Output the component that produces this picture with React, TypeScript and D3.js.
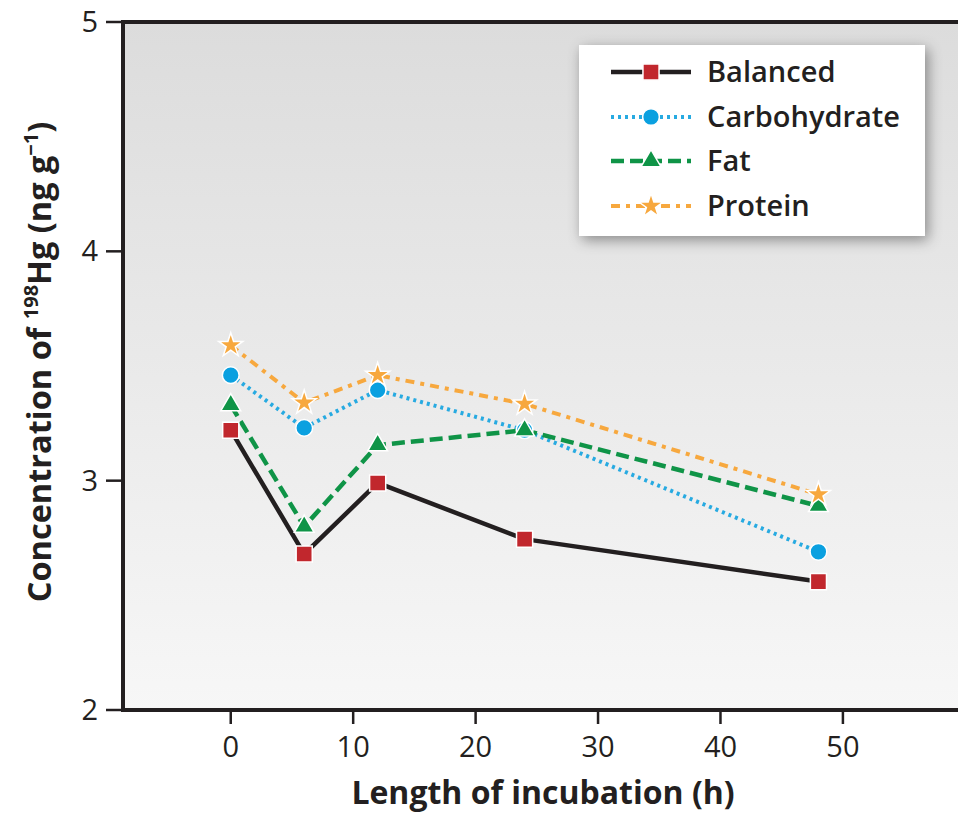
import React, { useRef, useEffect } from "react";
import * as d3 from "d3";

const hours = [0, 6, 12, 24, 48];
const balanced = [3.22, 2.68, 2.99, 2.745, 2.56];
const carbohydrate = [3.46, 3.23, 3.395, 3.22, 2.69];
const fat = [3.33, 2.8, 3.155, 3.22, 2.89];
const protein = [3.59, 3.34, 3.46, 3.335, 2.94];

const seriesNames = ["Balanced", "Carbohydrate", "Fat", "Protein"];
const xTicks = [0, 10, 20, 30, 40, 50];
const yTicks = [2, 3, 4, 5];

const FONT = "'Open Sans', 'Noto Sans', sans-serif";
const INK = "#231f20";

const App = () => {
  const ref = useRef<HTMLDivElement>(null);

  useEffect(() => {
    d3.select(ref.current).selectAll("*").remove();

    const W = 958,
      H = 815;
    const left = 123,
      top = 22,
      bottom = 710;

    const svg = d3
      .select(ref.current)
      .append("svg")
      .attr("width", W)
      .attr("height", H)
      .style("display", "block");

    const x = d3.scaleLinear().domain([-8.8, 59.4]).range([left, W]);
    const y = d3.scaleLinear().domain([2, 5]).range([bottom, top]);

    const defs = svg.append("defs");
    const grad = defs
      .append("linearGradient")
      .attr("id", "bg")
      .attr("x1", 0)
      .attr("y1", 0)
      .attr("x2", 0)
      .attr("y2", 1);
    grad.append("stop").attr("offset", "0%").attr("stop-color", "#dcdcdc");
    grad.append("stop").attr("offset", "100%").attr("stop-color", "#f7f7f7");

    const shadow = defs
      .append("filter")
      .attr("id", "shadow")
      .attr("x", "-20%")
      .attr("y", "-20%")
      .attr("width", "140%")
      .attr("height", "140%");
    shadow
      .append("feDropShadow")
      .attr("dx", 3)
      .attr("dy", 4)
      .attr("stdDeviation", 7)
      .attr("flood-color", "#000")
      .attr("flood-opacity", 0.4);

    // plot background
    svg
      .append("rect")
      .attr("x", left)
      .attr("y", top)
      .attr("width", W - left)
      .attr("height", bottom - top)
      .attr("fill", "url(#bg)");

    // frame
    svg
      .append("line")
      .attr("x1", left - 2)
      .attr("x2", W)
      .attr("y1", top)
      .attr("y2", top)
      .attr("stroke", INK)
      .attr("stroke-width", 4);
    svg
      .append("line")
      .attr("x1", left - 2)
      .attr("x2", W)
      .attr("y1", bottom)
      .attr("y2", bottom)
      .attr("stroke", INK)
      .attr("stroke-width", 4);
    svg
      .append("line")
      .attr("x1", left)
      .attr("x2", left)
      .attr("y1", top - 2)
      .attr("y2", bottom + 2)
      .attr("stroke", INK)
      .attr("stroke-width", 4);

    // y ticks
    yTicks.forEach((t) => {
      svg
        .append("line")
        .attr("x1", 106)
        .attr("x2", left - 2)
        .attr("y1", y(t))
        .attr("y2", y(t))
        .attr("stroke", INK)
        .attr("stroke-width", 2.5);
      svg
        .append("text")
        .attr("x", 98)
        .attr("y", y(t))
        .attr("dy", "0.35em")
        .attr("text-anchor", "end")
        .attr("font-family", FONT)
        .attr("font-size", 29)
        .attr("fill", INK)
        .text(t);
    });

    // x ticks
    xTicks.forEach((t) => {
      svg
        .append("line")
        .attr("x1", x(t))
        .attr("x2", x(t))
        .attr("y1", bottom + 2)
        .attr("y2", 724)
        .attr("stroke", INK)
        .attr("stroke-width", 2.5);
      svg
        .append("text")
        .attr("x", x(t))
        .attr("y", 747)
        .attr("dy", "0.35em")
        .attr("text-anchor", "middle")
        .attr("font-family", FONT)
        .attr("font-size", 29)
        .attr("fill", INK)
        .text(t);
    });

    // axis titles
    svg
      .append("text")
      .attr("x", 543)
      .attr("y", 804)
      .attr("text-anchor", "middle")
      .attr("font-family", FONT)
      .attr("font-weight", 700)
      .attr("font-size", 32)
      .attr("fill", INK)
      .text("Length of incubation (h)");

    const yt = svg
      .append("text")
      .attr("transform", "translate(51,362) rotate(-90)")
      .attr("text-anchor", "middle")
      .attr("font-family", FONT)
      .attr("font-weight", 700)
      .attr("font-size", 32.5)
      .attr("fill", INK);
    yt.append("tspan").text("Concentration of ");
    yt.append("tspan").attr("font-size", 20).attr("dy", -13).text("198");
    yt.append("tspan").attr("dy", 13).text("Hg (ng g");
    yt.append("tspan").attr("font-size", 20).attr("dy", -13).text("−1");
    yt.append("tspan").attr("dy", 13).text(")");

    const styles = [
      { color: INK, dash: null, width: 4.5, marker: d3.symbolSquare, size: 260, fill: "#c1272d" },
      { color: "#27aae1", dash: "3 4", width: 4, marker: d3.symbolCircle, size: 220, fill: "#0aa0e0" },
      { color: "#0f9447", dash: "13 6", width: 4.5, marker: d3.symbolTriangle, size: 170, fill: "#0f9447" },
      { color: "#f7a83e", dash: "9 6 4 6", width: 4, marker: d3.symbolStar, size: 180, fill: "#f7a83e" },
    ];
    const values = [balanced, carbohydrate, fat, protein];

    const line = d3
      .line<number>()
      .x((d, i) => x(hours[i]))
      .y((d) => y(d));

    values.forEach((vals, s) => {
      const st = styles[s];
      svg
        .append("path")
        .attr("d", line(vals))
        .attr("fill", "none")
        .attr("stroke", st.color)
        .attr("stroke-width", st.width)
        .attr("stroke-dasharray", st.dash)
        .attr("stroke-linejoin", "round");
    });
    values.forEach((vals, s) => {
      const st = styles[s];
      const sym = d3.symbol().type(st.marker).size(st.size);
      svg
        .selectAll(null)
        .data(vals)
        .enter()
        .append("path")
        .attr("d", sym())
        .attr("transform", (d, i) => `translate(${x(hours[i])},${y(d)})`)
        .attr("fill", st.fill)
        .attr("stroke", "#fff")
        .attr("stroke-width", 1.5);
    });

    // legend
    const lg = svg.append("g");
    lg.append("rect")
      .attr("x", 579)
      .attr("y", 45)
      .attr("width", 346)
      .attr("height", 191)
      .attr("fill", "#fff")
      .attr("filter", "url(#shadow)");
    const rowY = [72, 117, 161, 206];
    seriesNames.forEach((name, s) => {
      const st = styles[s];
      lg.append("line")
        .attr("x1", 611)
        .attr("x2", 691)
        .attr("y1", rowY[s])
        .attr("y2", rowY[s])
        .attr("stroke", st.color)
        .attr("stroke-width", st.width)
        .attr("stroke-dasharray", st.dash);
      lg.append("path")
        .attr("d", d3.symbol().type(st.marker).size(st.size)())
        .attr("transform", `translate(651,${rowY[s]})`)
        .attr("fill", st.fill)
        .attr("stroke", "#fff")
        .attr("stroke-width", 1.5);
      lg.append("text")
        .attr("x", 707)
        .attr("y", rowY[s])
        .attr("dy", "0.36em")
        .attr("font-family", FONT)
        .attr("font-weight", 600)
        .attr("font-size", 29)
        .attr("fill", INK)
        .text(name);
    });
  }, []);

  return (
    <div
      ref={ref}
      style={{ position: "absolute", left: 0, top: 0, width: 958, height: 815 }}
    ></div>
  );
};

export default App;
